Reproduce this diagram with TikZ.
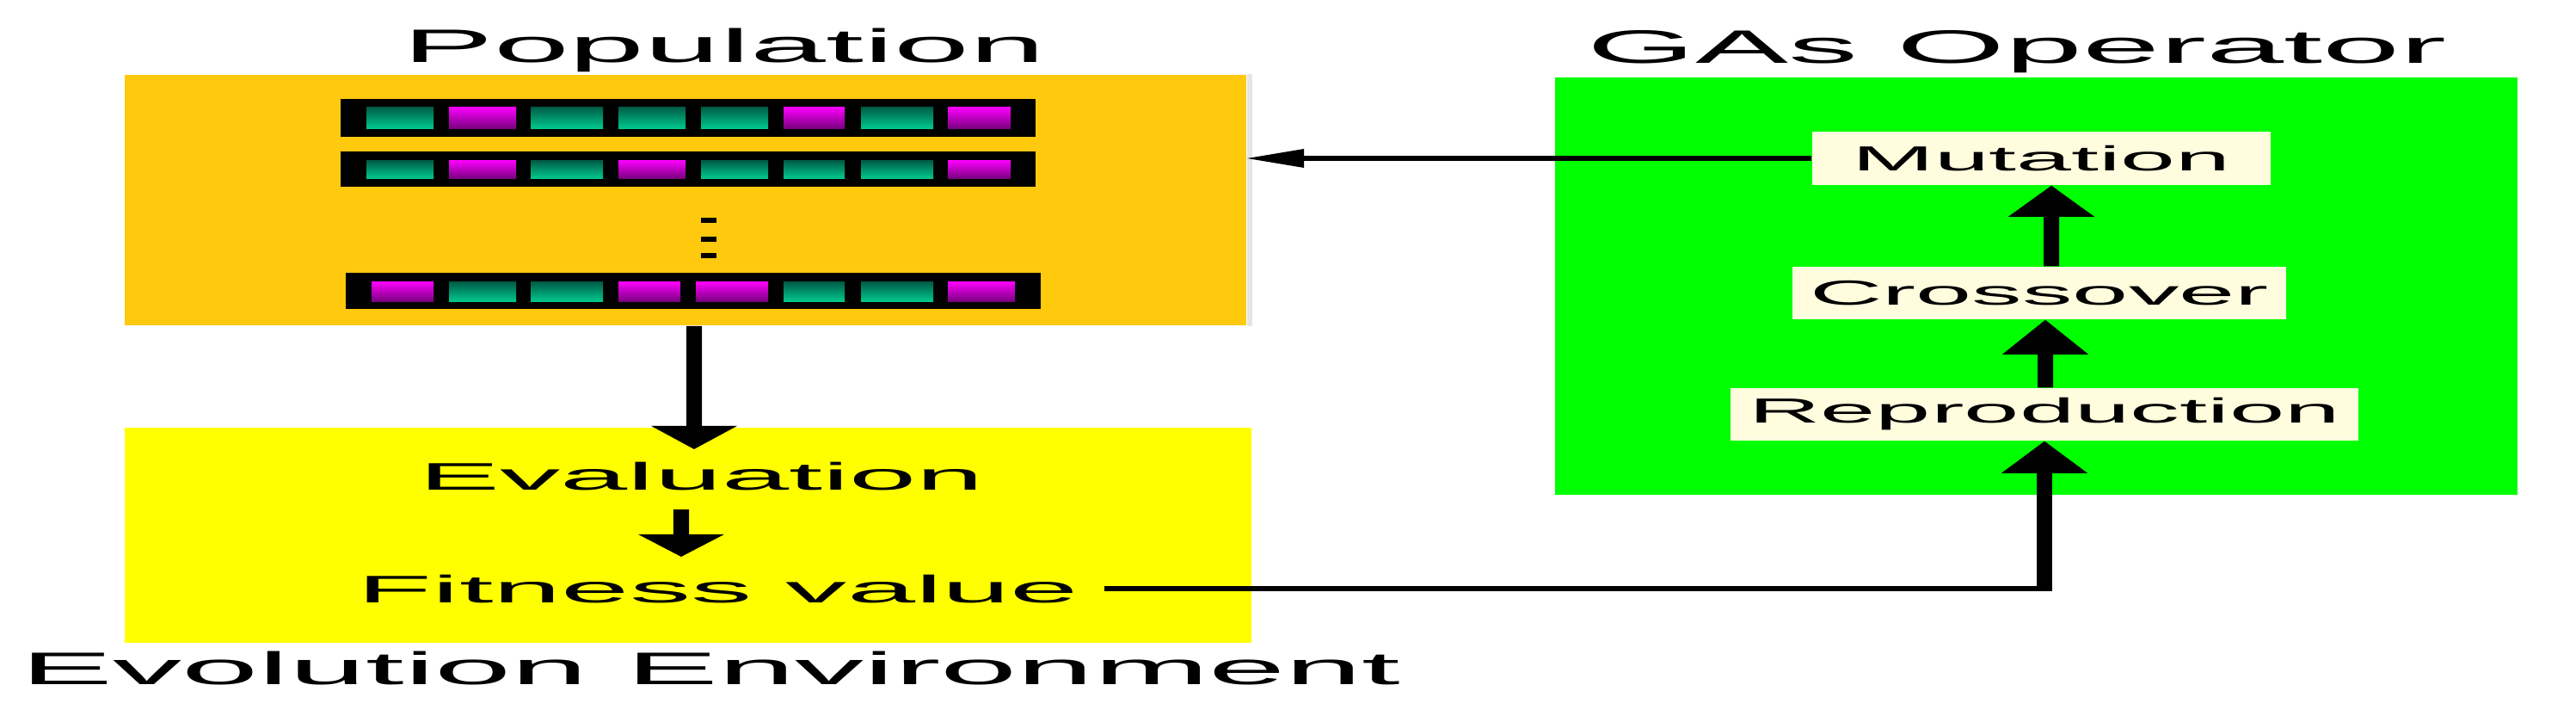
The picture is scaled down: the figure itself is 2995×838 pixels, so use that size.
\documentclass[tikz,border=0pt]{standalone}
\usepackage{fontspec}
\setmainfont{Liberation Sans}
\usetikzlibrary{arrows.meta,calc}
\definecolor{popor}{RGB}{255,201,14}
\definecolor{envy}{RGB}{255,255,0}
\definecolor{opg}{RGB}{0,255,0}
\definecolor{cream}{RGB}{255,253,222}
\definecolor{tealtop}{RGB}{0,90,70}
\definecolor{tealbot}{RGB}{0,200,140}
\definecolor{magtop}{RGB}{255,0,255}
\definecolor{magbot}{RGB}{122,0,128}
\newcommand{\stretchtext}[3]{\resizebox{#1}{\height}{\fontsize{#2}{#2}\selectfont #3}}
\begin{document}
\begin{tikzpicture}[x=0.01cm,y=-0.01cm,
  areabox/.style={rectangle,draw=none,inner sep=0pt},
  opbox/.style={rectangle,draw=none,fill=cream,inner sep=0pt},
  chrom/.style={rectangle,draw=none,fill=black,inner sep=0pt,minimum width=8.08cm},
  txt/.style={inner sep=0pt,anchor=base},
  geneT/.style={top color=tealtop,bottom color=tealbot},
  geneM/.style={top color=magtop,bottom color=magbot},
  bigarr/.style={line width=0.18cm,-{Triangle[length=#1,width=1.0cm,line width=0pt]}},
  bigarr/.default=0.36cm,
  thinarr/.style={line width=0.06cm,-{Triangle[length=0.66cm,width=0.22cm,line width=0pt]}},
  thinline/.style={line width=0.06cm}]
\useasboundingbox (0,0) rectangle (2995,838);

% area boxes
\node[areabox,fill=popor,minimum width=13.04cm,minimum height=2.91cm] (pop) at (797,232.5) {};
\fill[gray!20] (pop.north east) rectangle ([xshift=0.06cm]pop.south east);
\node[areabox,fill=envy,minimum width=13.10cm,minimum height=2.50cm] (env) at (800,622) {};
\node[areabox,fill=opg,minimum width=11.19cm,minimum height=4.85cm] (ops) at (2367.5,332.5) {};

% titles
\node[txt] (poptitle) at (842,72) {\stretchtext{7.46cm}{15.5pt}{Population}};
\node[txt] (opstitle) at (2345,73) {\stretchtext{9.98cm}{15.5pt}{GAs Operator}};
\node[txt,anchor=base west] (envtitle) at (24,795) {\stretchtext{16.03cm}{15.1pt}{Evolution Environment}};

% chromosomes
\node[chrom,minimum height=0.44cm] (r1) at (800,137) {};
\node[chrom,minimum height=0.41cm] (r2) at (800,196.5) {};
\node[chrom,minimum height=0.42cm] (r3) at (806,338) {};
\foreach \a/\b/\c in {426/504/T,522/600/M,617/701/T,719/797/T,815/893/T,911/982/M,1001/1085/T,1102/1175/M}
  {\shade[gene\c] (\a,124) rectangle (\b,149);}
\foreach \a/\b/\c in {426/504/T,522/600/M,617/701/T,719/797/M,815/893/T,911/982/T,1001/1085/T,1102/1175/M}
  {\shade[gene\c] (\a,186) rectangle (\b,207);}
\foreach \a/\b/\c in {432/504/M,522/600/T,617/701/T,719/791/M,809/893/M,911/982/T,1001/1085/T,1102/1180/M}
  {\shade[gene\c] (\a,327) rectangle (\b,350);}
\foreach \y in {253,275,294}
  {\fill[black] (815,\y) rectangle (833,\y+6);}

% operators
\node[opbox,minimum width=5.33cm,minimum height=0.62cm] (mut) at (2373.5,184) {\stretchtext{4.40cm}{11.5pt}{Mutation}};
\node[opbox,minimum width=5.74cm,minimum height=0.61cm] (cro) at (2371,340.5) {\stretchtext{5.33cm}{11.5pt}{Crossover}};
\node[opbox,minimum width=7.30cm,minimum height=0.61cm] (rep) at (2377,481.5) {\stretchtext{6.87cm}{11.5pt}{Reproduction}};

% evaluation texts
\node[txt] (eval) at (816,569) {\stretchtext{6.56cm}{12.7pt}{Evaluation}};
\node[txt] (fit) at (835,700) {\stretchtext{8.38cm}{12.7pt}{Fitness value}};

% connectors
\draw[bigarr=0.27cm] ([xshift=0.10cm]pop.south) -- ([xshift=-0.09cm,yshift=0.14cm]eval.north);
\draw[bigarr=0.26cm] ([xshift=-0.24cm,yshift=-0.22cm]eval.south) -- ([xshift=-0.43cm,yshift=0.20cm]fit.north);
\coordinate (corner) at (fit.east -| rep.south);
\draw[thinline] ([xshift=0.29cm]fit.east) -- ([xshift=0.09cm]corner);
\draw[bigarr=0.37cm] ([yshift=-0.03cm]corner) -- (rep.south);
\draw[bigarr=0.40cm] ([xshift=0.01cm]rep.north) -- ([xshift=0.07cm]cro.south);
\draw[bigarr=0.36cm] ([xshift=0.14cm]cro.north) -- ([xshift=0.115cm]mut.south);
\draw[thinarr] (mut.west) -- (mut.west -| pop.east);
\end{tikzpicture}
\end{document}
